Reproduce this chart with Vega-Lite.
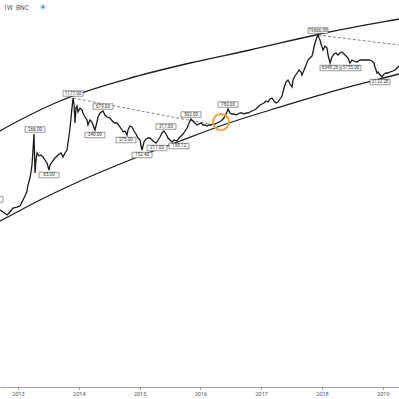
{
  "$schema": "https://vega.github.io/schema/vega-lite/v6.json",
  "width": 399,
  "height": 387,
  "autosize": {"type": "none"},
  "padding": {"left": 0, "top": 0, "right": 0, "bottom": 12},
  "background": "white",
  "config": {"view": {"stroke": null}, "font": "Roboto"},
  "datasets": {
    "price": [
      {"t":2012.540,"p":9.02},{"t":2012.589,"p":10.77},{"t":2012.622,"p":7.23},{"t":2012.671,"p":7.90},{"t":2012.704,"p":8.26},{"t":2012.753,"p":7.56},{"t":2012.819,"p":6.62},{"t":2012.868,"p":7.56},{"t":2012.918,"p":9.02},{"t":2012.984,"p":9.43},
      {"t":2013.033,"p":9.86},{"t":2013.082,"p":12.86},{"t":2013.115,"p":15.35},{"t":2013.148,"p":19.16},{"t":2013.165,"p":24.99},{"t":2013.197,"p":34.07},{"t":2013.214,"p":44.43},{"t":2013.230,"p":60.58},{"t":2013.247,"p":117.7},{"t":2013.263,"p":239.0},
      {"t":2013.280,"p":42.51},{"t":2013.296,"p":75.59},{"t":2013.313,"p":103.1},{"t":2013.345,"p":90.24},{"t":2013.378,"p":94.3},{"t":2013.411,"p":86.33},{"t":2013.444,"p":75.59},{"t":2013.477,"p":66.19},{"t":2013.510,"p":48.55},{"t":2013.526,"p":60.58},
      {"t":2013.559,"p":69.18},{"t":2013.609,"p":82.59},{"t":2013.658,"p":94.3},{"t":2013.707,"p":103.1},{"t":2013.740,"p":86.33},{"t":2013.773,"p":103.1},{"t":2013.806,"p":117.7},{"t":2013.822,"p":160.5},{"t":2013.839,"p":218.8},{"t":2013.855,"p":311.8},
      {"t":2013.872,"p":485.5},{"t":2013.888,"p":755.9},{"t":2013.905,"p":1177},{"t":2013.921,"p":902.4},{"t":2013.938,"p":389.1},{"t":2013.954,"p":755.9},{"t":2013.970,"p":825.9},{"t":2013.987,"p":633.2},{"t":2014.020,"p":755.9},{"t":2014.053,"p":691.8},
      {"t":2014.069,"p":605.8},{"t":2014.102,"p":507.5},{"t":2014.135,"p":444.3},{"t":2014.151,"p":356.1},{"t":2014.184,"p":444.3},{"t":2014.217,"p":406.7},{"t":2014.234,"p":356.1},{"t":2014.266,"p":285.4},{"t":2014.299,"p":406.7},{"t":2014.316,"p":507.5},
      {"t":2014.349,"p":605.8},{"t":2014.398,"p":661.9},{"t":2014.431,"p":554.4},{"t":2014.464,"p":507.5},{"t":2014.513,"p":485.5},{"t":2014.563,"p":406.7},{"t":2014.596,"p":389.1},{"t":2014.628,"p":389.1},{"t":2014.678,"p":325.9},{"t":2014.711,"p":285.4},
      {"t":2014.727,"p":261.2},{"t":2014.760,"p":273.0},{"t":2014.793,"p":228.7},{"t":2014.809,"p":285.4},{"t":2014.842,"p":340.7},{"t":2014.875,"p":325.9},{"t":2014.908,"p":273.0},{"t":2014.941,"p":239.0},{"t":2014.974,"p":200.2},{"t":2015.007,"p":183.3},
      {"t":2015.023,"p":140.5},{"t":2015.040,"p":117.7},{"t":2015.072,"p":167.7},{"t":2015.105,"p":191.6},{"t":2015.138,"p":200.2},{"t":2015.171,"p":200.2},{"t":2015.220,"p":175.3},{"t":2015.270,"p":160.5},{"t":2015.303,"p":183.3},{"t":2015.336,"p":209.3},
      {"t":2015.368,"p":249.9},{"t":2015.401,"p":273.0},{"t":2015.434,"p":239.0},{"t":2015.467,"p":200.2},{"t":2015.500,"p":183.3},{"t":2015.533,"p":167.7},{"t":2015.566,"p":183.3},{"t":2015.615,"p":175.3},{"t":2015.648,"p":200.2},{"t":2015.681,"p":218.8},
      {"t":2015.714,"p":239.0},{"t":2015.747,"p":273.0},{"t":2015.780,"p":311.8},{"t":2015.813,"p":389.1},{"t":2015.846,"p":464.4},{"t":2015.878,"p":425.1},{"t":2015.911,"p":389.1},{"t":2015.944,"p":356.1},{"t":2015.977,"p":372.2},{"t":2016.010,"p":389.1},
      {"t":2016.043,"p":356.1},{"t":2016.076,"p":356.1},{"t":2016.108,"p":340.7},{"t":2016.141,"p":356.1},{"t":2016.174,"p":356.1},{"t":2016.207,"p":372.2},{"t":2016.240,"p":372.2},{"t":2016.273,"p":389.1},{"t":2016.306,"p":406.7},{"t":2016.339,"p":425.1},
      {"t":2016.372,"p":464.4},{"t":2016.405,"p":530.4},{"t":2016.437,"p":633.2},{"t":2016.454,"p":723.2},{"t":2016.487,"p":605.8},{"t":2016.520,"p":579.5},{"t":2016.553,"p":579.5},{"t":2016.586,"p":554.4},{"t":2016.618,"p":579.5},{"t":2016.651,"p":605.8},
      {"t":2016.684,"p":605.8},{"t":2016.717,"p":579.5},{"t":2016.750,"p":605.8},{"t":2016.783,"p":605.8},{"t":2016.816,"p":633.2},{"t":2016.848,"p":661.9},{"t":2016.881,"p":691.8},{"t":2016.914,"p":723.2},{"t":2016.947,"p":790.1},{"t":2016.980,"p":863.3},
      {"t":2017.013,"p":902.4},{"t":2017.046,"p":943},{"t":2017.079,"p":1031},{"t":2017.112,"p":986},{"t":2017.145,"p":1126},{"t":2017.177,"p":1177},{"t":2017.210,"p":1031},{"t":2017.243,"p":943},{"t":2017.276,"p":986},{"t":2017.309,"p":1126},
      {"t":2017.342,"p":1286},{"t":2017.375,"p":1833},{"t":2017.408,"p":2390},{"t":2017.441,"p":2612},{"t":2017.474,"p":2188},{"t":2017.507,"p":1916},{"t":2017.523,"p":2612},{"t":2017.556,"p":3118},{"t":2017.589,"p":3561},{"t":2017.622,"p":4067},
      {"t":2017.655,"p":3722},{"t":2017.671,"p":3259},{"t":2017.704,"p":4067},{"t":2017.737,"p":5075},{"t":2017.770,"p":6332},{"t":2017.803,"p":6919},{"t":2017.836,"p":7559},{"t":2017.852,"p":9024},{"t":2017.868,"p":11261},{"t":2017.885,"p":13443},
      {"t":2017.901,"p":15353},{"t":2017.918,"p":17534},{"t":2017.934,"p":19157},{"t":2017.951,"p":16774},{"t":2017.967,"p":15353},{"t":2017.984,"p":12860},{"t":2018.000,"p":11261},{"t":2018.017,"p":9861},{"t":2018.049,"p":11771},{"t":2018.082,"p":10773},
      {"t":2018.099,"p":7901},{"t":2018.132,"p":5544},{"t":2018.164,"p":7232},{"t":2018.197,"p":8259},{"t":2018.230,"p":8633},{"t":2018.263,"p":7901},{"t":2018.296,"p":8633},{"t":2018.329,"p":9024},{"t":2018.362,"p":8259},{"t":2018.395,"p":7559},
      {"t":2018.428,"p":6919},{"t":2018.460,"p":5544},{"t":2018.493,"p":6332},{"t":2018.526,"p":6058},{"t":2018.576,"p":5795},{"t":2018.625,"p":6332},{"t":2018.674,"p":6332},{"t":2018.724,"p":6332},{"t":2018.773,"p":6332},{"t":2018.822,"p":6058},
      {"t":2018.855,"p":5544},{"t":2018.871,"p":4644},{"t":2018.904,"p":3561},{"t":2018.921,"p":3722},{"t":2018.954,"p":3259},{"t":2018.987,"p":2983},{"t":2019.020,"p":3407},{"t":2019.053,"p":3561},{"t":2019.085,"p":3561},{"t":2019.118,"p":3722},
      {"t":2019.168,"p":3891},{"t":2019.201,"p":4067},{"t":2019.233,"p":4443},{"t":2019.266,"p":4855},{"t":2019.299,"p":5075}
    ],
    "bands": [
      {"band":"upper","t":2012.540,"p":209.3},{"band":"upper","t":2012.704,"p":273.0},{"band":"upper","t":2013.033,"p":444.3},{"band":"upper","t":2013.691,"p":1031},{"band":"upper","t":2014.793,"p":2730},{"band":"upper","t":2015.829,"p":5544},{"band":"upper","t":2016.816,"p":9861},{"band":"upper","t":2017.967,"p":20024},{"band":"upper","t":2019.266,"p":38906},{"band":"upper","t":2019.447,"p":42508},
      {"band":"lower","t":2012.540,"p":4.067},{"band":"lower","t":2012.704,"p":5.075},{"band":"lower","t":2013.362,"p":12.86},{"band":"lower","t":2014.020,"p":29.83},{"band":"lower","t":2014.842,"p":75.59},{"band":"lower","t":2015.665,"p":175.3},{"band":"lower","t":2016.372,"p":356.1},{"band":"lower","t":2017.145,"p":691.8},{"band":"lower","t":2018.132,"p":1535},{"band":"lower","t":2019.266,"p":3407},{"band":"lower","t":2019.447,"p":3891}
    ],
    "dashes": [
      {"seg":"a","t":2013.905,"p":1177},{"seg":"a","t":2016.224,"p":356.1},
      {"seg":"b","t":2017.934,"p":19157},{"seg":"b","t":2019.447,"p":11564}
    ],
    "circle": [{"t":2016.339,"p":406.7}],
    "labels": [
      {"t":2012.589,"p":10.77,"pos":"above","text":"15.40"},
      {"t":2013.280,"p":239.0,"pos":"above","text":"266.00"},
      {"t":2013.905,"p":1177,"pos":"above","text":"1177.00"},
      {"t":2014.398,"p":661.9,"pos":"above","text":"679.00"},
      {"t":2015.434,"p":273.0,"pos":"above","text":"317.00"},
      {"t":2015.846,"p":464.4,"pos":"above","text":"502.00"},
      {"t":2016.454,"p":723.2,"pos":"above","text":"780.00"},
      {"t":2017.934,"p":19157,"pos":"above","text":"19666.00"},
      {"t":2013.510,"p":48.55,"pos":"below","text":"65.00"},
      {"t":2014.266,"p":285.4,"pos":"below","text":"340.00"},
      {"t":2014.776,"p":228.7,"pos":"below","text":"275.00"},
      {"t":2015.040,"p":117.7,"pos":"below","text":"152.40"},
      {"t":2015.286,"p":160.5,"pos":"below","text":"211.00"},
      {"t":2015.648,"p":175.3,"pos":"below","text":"198.12"},
      {"t":2018.132,"p":5544,"pos":"below","text":"6048.26"},
      {"t":2018.477,"p":5544,"pos":"below","text":"5755.00"},
      {"t":2018.954,"p":2983,"pos":"below","text":"3122.28"}
    ],
    "header": [{"t":2012.76,"p":63320,"text":"1W\u00a0\u00a0BNC"}],
    "icon": [{"t":2013.411,"p":66190}]
  },
  "encoding": {
    "x": {"field":"t","type":"quantitative","scale":{"domain":[2012.704,2019.266],"nice":false,"zero":false},
      "axis":{"values":[2013,2014,2015,2016,2017,2018,2019],"format":"d","title":null,"grid":false,"domainColor":"#8a8a8a","domainWidth":0.8,"tickColor":"#8a8a8a","tickSize":2,"labelFontSize":5.5,"labelColor":"#555555","labelPadding":2,"labelFont":"Roboto"}},
    "y": {"field":"p","type":"quantitative","scale":{"type":"log","domain":[0.00326,90240],"nice":false,"zero":false},"axis":null}
  },
  "layer": [
    {"data":{"name":"bands"},"mark":{"type":"line","clip":true,"color":"#1e1e1e","strokeWidth":1.3,"interpolate":"monotone"},"encoding":{"detail":{"field":"band"}}},
    {"data":{"name":"dashes"},"mark":{"type":"line","clip":true,"color":"#777777","strokeWidth":0.9,"strokeDash":[3,2]},"encoding":{"detail":{"field":"seg"}}},
    {"data":{"name":"price"},"mark":{"type":"line","clip":true,"color":"#1a1a1a","strokeWidth":1.3}},
    {"data":{"name":"circle"},"mark":{"type":"point","shape":"circle","filled":false,"size":260,"stroke":"#EBA340","strokeWidth":2,"opacity":1}},
    {"data":{"name":"labels"},"transform":[{"filter":"datum.pos == 'above'"}],"mark":{"type":"point","clip":true,"shape":"M-1,-0.275H1V0.275H-1Z","size":400,"filled":true,"fill":"white","stroke":"#555555","strokeWidth":0.6,"opacity":1,"yOffset":-4.5}},
    {"data":{"name":"labels"},"transform":[{"filter":"datum.pos == 'above'"}],"mark":{"type":"text","clip":true,"fontSize":4.5,"color":"#333333","align":"center","baseline":"middle","yOffset":-4.5},"encoding":{"text":{"field":"text"}}},
    {"data":{"name":"labels"},"transform":[{"filter":"datum.pos == 'below'"}],"mark":{"type":"point","clip":true,"shape":"M-1,-0.275H1V0.275H-1Z","size":400,"filled":true,"fill":"white","stroke":"#555555","strokeWidth":0.6,"opacity":1,"yOffset":5}},
    {"data":{"name":"labels"},"transform":[{"filter":"datum.pos == 'below'"}],"mark":{"type":"text","clip":true,"fontSize":4.5,"color":"#333333","align":"center","baseline":"middle","yOffset":5},"encoding":{"text":{"field":"text"}}},
    {"data":{"name":"header"},"mark":{"type":"text","fontSize":6.5,"color":"#555555","align":"left","baseline":"middle"},"encoding":{"text":{"field":"text"}}},
    {"data":{"name":"icon"},"mark":{"type":"point","shape":"circle","filled":true,"size":45,"color":"#d6ecf7","opacity":1}},
    {"data":{"name":"icon"},"mark":{"type":"point","shape":"circle","filled":true,"size":8,"color":"#3b8fc4","opacity":1}}
  ]
}
